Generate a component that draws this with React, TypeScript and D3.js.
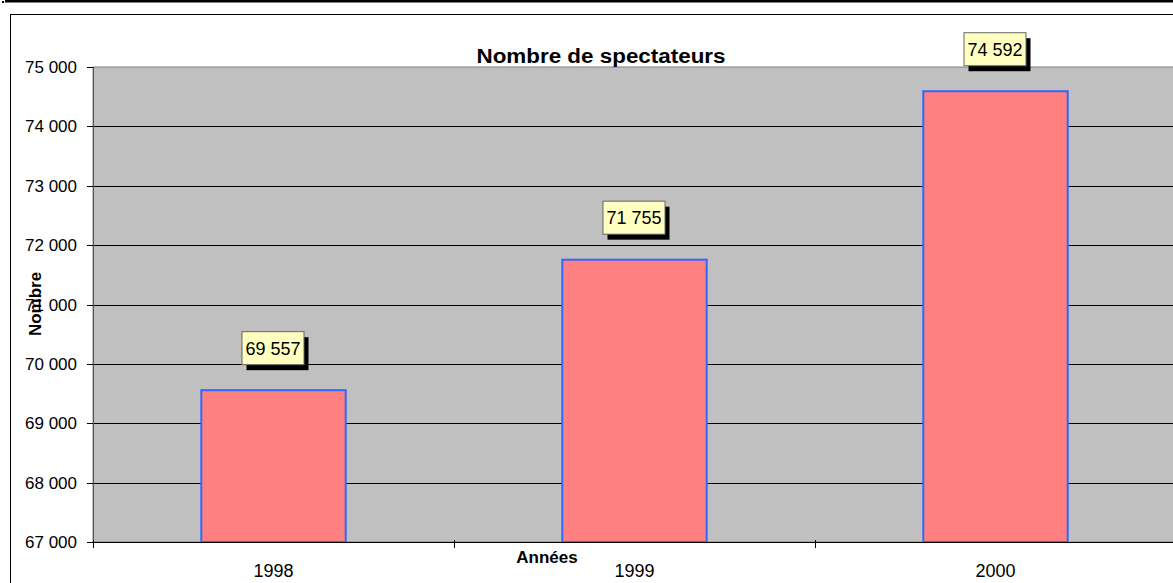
import { useRef, useEffect } from "react"
import * as d3 from "d3"

const years = ["1998", "1999", "2000"]
const spectators = [69557, 71755, 74592]
const yTicks = [67000, 68000, 69000, 70000, 71000, 72000, 73000, 74000, 75000]

const App = () => {
  const svgRef = useRef<SVGSVGElement>(null)

  useEffect(() => {
    const root = d3.select(svgRef.current)
    root.selectAll("*").remove()

    const W = 1173
    const H = 583
    const left = 93
    const right = 1176
    const top = 67
    const bottom = 542
    const font = "Arial, 'Liberation Sans', sans-serif"

    const fr = d3.formatLocale({ decimal: ",", thousands: " ", grouping: [3], currency: ["", ""] })
    const fmt = fr.format(",")

    root.attr("width", W).attr("height", H)

    // page background + outer frame
    root.append("rect").attr("width", W).attr("height", H).attr("fill", "#fff")
    root.append("rect").attr("x", 5).attr("y", 0).attr("width", W - 5).attr("height", 2.5).attr("fill", "#000")
    root.append("rect").attr("x", 2).attr("y", 1).attr("width", 2).attr("height", 2).attr("fill", "#000")
    root
      .append("rect")
      .attr("x", 10.5)
      .attr("y", 14.5)
      .attr("width", W + 20)
      .attr("height", H + 20)
      .attr("fill", "none")
      .attr("stroke", "#000")
      .attr("stroke-width", 1)

    const x = d3.scaleBand().domain(years).range([left, right]).padding(0)
    const y = d3.scaleLinear().domain([67000, 75000]).range([bottom, top])

    // plot area
    root
      .append("rect")
      .attr("x", left)
      .attr("y", top)
      .attr("width", right - left)
      .attr("height", bottom - top)
      .attr("fill", "#c0c0c0")
      .attr("stroke", "#808080")

    // gridlines
    root
      .append("g")
      .selectAll("line")
      .data(yTicks.slice(1, -1))
      .enter()
      .append("line")
      .attr("x1", left)
      .attr("x2", right)
      .attr("y1", (d) => Math.round(y(d)) + 0.5)
      .attr("y2", (d) => Math.round(y(d)) + 0.5)
      .attr("stroke", "#000")

    // bars
    const bw = x.bandwidth()
    root
      .append("g")
      .selectAll("rect")
      .data(years)
      .enter()
      .append("rect")
      .attr("x", (d) => (x(d) as number) + bw * 0.3)
      .attr("y", (d, i) => y(spectators[i]))
      .attr("width", bw * 0.4)
      .attr("height", (d, i) => bottom - y(spectators[i]))
      .attr("fill", "#ff8080")
      .attr("stroke", "#3366ff")
      .attr("stroke-width", 2)

    // axes
    root
      .append("line")
      .attr("x1", left + 0.5)
      .attr("x2", left + 0.5)
      .attr("y1", top)
      .attr("y2", bottom)
      .attr("stroke", "#555")
    root
      .append("line")
      .attr("x1", left)
      .attr("x2", right)
      .attr("y1", bottom + 0.5)
      .attr("y2", bottom + 0.5)
      .attr("stroke", "#000")

    const yAxis = root.append("g")
    yAxis
      .selectAll("line")
      .data(yTicks)
      .enter()
      .append("line")
      .attr("x1", left - 6)
      .attr("x2", left)
      .attr("y1", (d) => Math.round(y(d)) + 0.5)
      .attr("y2", (d) => Math.round(y(d)) + 0.5)
      .attr("stroke", "#000")
    yAxis
      .selectAll("text")
      .data(yTicks)
      .enter()
      .append("text")
      .attr("x", left - 16)
      .attr("y", (d) => y(d) + 6)
      .attr("text-anchor", "end")
      .style("font-family", font)
      .style("font-size", "17px")
      .text((d) => fmt(d))

    // x ticks at category boundaries
    const bounds = years.map((d) => x(d) as number).concat([right])
    root
      .append("g")
      .selectAll("line")
      .data(bounds)
      .enter()
      .append("line")
      .attr("x1", (d) => Math.round(d) + 0.5)
      .attr("x2", (d) => Math.round(d) + 0.5)
      .attr("y1", bottom - 2)
      .attr("y2", bottom + 6)
      .attr("stroke", "#000")

    root
      .append("g")
      .selectAll("text")
      .data(years)
      .enter()
      .append("text")
      .attr("x", (d) => (x(d) as number) + bw / 2)
      .attr("y", 577)
      .attr("text-anchor", "middle")
      .style("font-family", font)
      .style("font-size", "18px")
      .text((d) => d)

    // data labels
    const labels = root
      .append("g")
      .selectAll("g")
      .data(years)
      .enter()
      .append("g")
      .attr("transform", (d, i) => `translate(${(x(d) as number) + bw / 2},${y(spectators[i]) - 25})`)
    labels
      .append("rect")
      .attr("x", -27)
      .attr("y", -28)
      .attr("width", 62)
      .attr("height", 33)
      .attr("fill", "#000")
    labels
      .append("rect")
      .attr("x", -31.5)
      .attr("y", -33.5)
      .attr("width", 62)
      .attr("height", 33)
      .attr("fill", "#ffffc0")
      .attr("stroke", "#666")
    labels
      .append("text")
      .attr("x", -0.5)
      .attr("y", -10.5)
      .attr("text-anchor", "middle")
      .style("font-family", font)
      .style("font-size", "18px")
      .text((d, i) => fmt(spectators[i]))

    // title + axis titles
    root
      .append("text")
      .attr("x", 601)
      .attr("y", 63)
      .attr("text-anchor", "middle")
      .attr("textLength", 249)
      .attr("lengthAdjust", "spacingAndGlyphs")
      .style("font-family", font)
      .style("font-size", "20px")
      .style("font-weight", "bold")
      .text("Nombre de spectateurs")

    root
      .append("text")
      .attr("x", 547)
      .attr("y", 563)
      .attr("text-anchor", "middle")
      .style("font-family", font)
      .style("font-size", "17px")
      .style("font-weight", "bold")
      .text("Années")

    root
      .append("text")
      .attr("transform", "translate(41,304) rotate(-90)")
      .attr("text-anchor", "middle")
      .style("font-family", font)
      .style("font-size", "17px")
      .style("font-weight", "bold")
      .text("Nombre")
  }, [])

  return (
    <div style={{ position: "absolute", left: 0, top: 0 }}>
      <svg ref={svgRef}></svg>
    </div>
  )
}

export default App
